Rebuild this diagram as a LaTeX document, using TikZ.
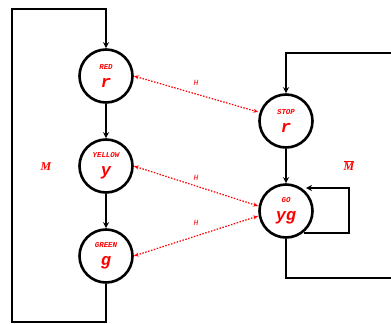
\documentclass[tikz,border=0pt]{standalone}
\usepackage{fontspec}
\setmonofont{Liberation Mono}
\newfontfamily\labfont{Liberation Serif}
\usetikzlibrary{arrows.meta}
\begin{document}
\begin{tikzpicture}[x=1bp,y=-1bp,
  state/.style={circle,draw=black,line width=2.6bp,minimum size=53bp,inner sep=0pt,align=center,text=red,font=\ttfamily\bfseries\itshape},
  flow/.style={line width=1.8bp,-{Stealth[length=6bp,width=6bp]}},
  plain/.style={line width=1.8bp},
  hlink/.style={red,line width=1.2bp,dash pattern=on 1.5bp off 1.5bp,{Stealth[length=5bp,width=4bp]}-{Stealth[length=5bp,width=4bp]}},
  hlab/.style={text=red,font=\ttfamily\itshape\fontsize{8}{9}\selectfont},
  mlab/.style={text=red,font=\labfont\bfseries\itshape\fontsize{12}{13}\selectfont}]
\useasboundingbox (0,0) rectangle (391,324);
\clip (0,0) rectangle (391,324);
\newcommand{\stlab}[2]{{\fontsize{7.5}{8}\selectfont #1}\\[6bp]{\fontsize{17}{17}\selectfont #2}}
\node[state] (red) at (106,76) {\stlab{RED}{r}};
\node[state] (yellow) at (106,166) {\stlab{YELLOW}{y}};
\node[state] (green) at (106,256) {\stlab{GREEN}{g}};
\node[state] (stop) at (286,121) {\stlab{STOP}{r}};
\node[state] (go) at (286,211) {\stlab{GO}{yg}};
\coordinate (l1) at (106,322);
\coordinate (l2) at (12,322);
\coordinate (l3) at (12,9);
\coordinate (l4) at (106,9);
\draw[flow] (green.south) -- (l1) -- (l2) -- (l3) -- (l4) -- (red.north);
\draw[flow] (red) -- (yellow);
\draw[flow] (yellow) -- (green);
\draw[flow] (stop) -- (go);
\coordinate (r1) at (286,278);
\coordinate (r2) at (400,278);
\coordinate (r3) at (400,53);
\coordinate (r4) at (286,53);
\draw[plain] (go.south) -- (r1) -- (r2);
\draw[flow] (r3) -- (r4) -- (stop.north);
\coordinate (s1) at (349,233);
\coordinate (s2) at (349,188);
\coordinate (s3) at (304,233);
\coordinate (s4) at (306,188);
\draw[flow] (s3) -- (s1) -- (s2) -- (s4);
\draw[hlink] (red.east) -- (stop.west |- 0,112);
\draw[hlink] (yellow.east) -- (go.west |- 0,206);
\draw[hlink] (green.east) -- (go.west |- 0,216);
\node[hlab] (h1) at (196,83) {H};
\node[hlab] (h2) at (196,178) {H};
\node[hlab] (h3) at (196,223) {H};
\node[mlab] (m) at (46,167) {M};
\node[mlab] (mb) at (349,166) {$\overline{\mbox{M}}$};
\end{tikzpicture}
\end{document}
